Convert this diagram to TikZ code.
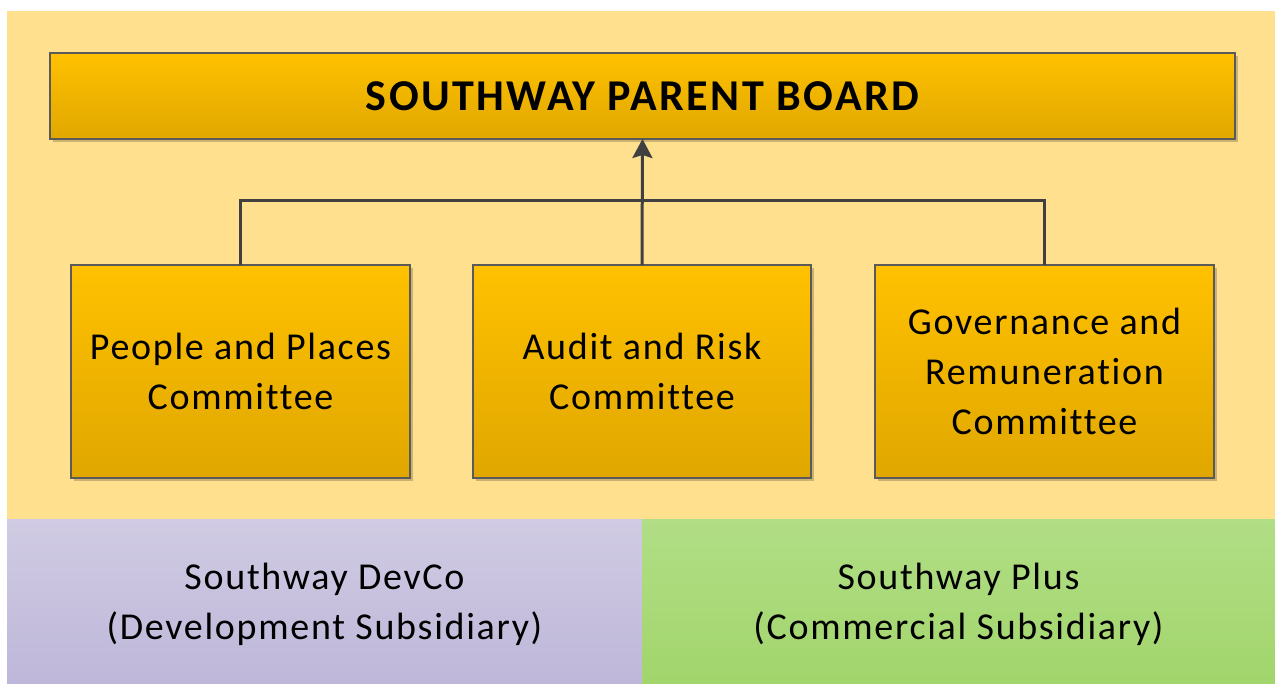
\documentclass[tikz,border=0pt]{standalone}
\usepackage{fontspec}
\setmainfont{Carlito}[Ligatures=NoCommon, LetterSpace=4.5]
\newfontfamily\titlefont{Carlito}[Ligatures=NoCommon, LetterSpace=5.5]
\usetikzlibrary{arrows.meta,shadows}
\definecolor{bgyellow}{HTML}{FFE08F}
\definecolor{boxtop}{HTML}{FFC100}
\definecolor{boxbot}{HTML}{E0A700}
\definecolor{edgegray}{HTML}{5A5A5A}
\definecolor{linegray}{HTML}{404040}
\definecolor{purtop}{HTML}{D0CBE3}
\definecolor{purbot}{HTML}{BEB7D9}
\definecolor{grntop}{HTML}{B1DE86}
\definecolor{grnbot}{HTML}{A2D56C}
\tikzset{
  orgbox/.style={draw=edgegray, line width=2pt, top color=boxtop, bottom color=boxbot,
    inner sep=0pt, outer sep=0pt, align=center,
    drop shadow={shadow xshift=3pt, shadow yshift=-3pt, fill=black!40!bgyellow, opacity=0.5}},
  comfont/.style={font=\fontsize{38}{50}\selectfont},
  subfont/.style={font=\fontsize{38}{50}\selectfont, align=center},
  conn/.style={draw=linegray, line width=3pt},
}
\begin{document}
\begin{tikzpicture}[x=1pt,y=-1pt]
\useasboundingbox (0,0) rectangle (1275,684);
\fill[white] (0,0) rectangle (1275,684);
\fill[bgyellow] (7,11) rectangle (1275,519);
\shade[top color=purtop, bottom color=purbot] (7,519) rectangle (642,684);
\shade[top color=grntop, bottom color=grnbot] (642,519) rectangle (1275,684);

\node[orgbox, minimum width=1185pt, minimum height=86pt, font=\titlefont\fontsize{44}{50}\selectfont\bfseries] (parent) at (642.5,96) {SOUTHWAY PARENT BOARD};

\node[orgbox, comfont, minimum width=339pt, minimum height=213pt] (ppc) at (240.5,371.5) {People and Places\\Committee};
\node[orgbox, comfont, minimum width=338pt, minimum height=213pt] (arc) at (642,371.5) {Audit and Risk\\Committee};
\node[orgbox, comfont, minimum width=339pt, minimum height=213pt] (grc) at (1044.5,371.5) {Governance and\\Remuneration\\Committee};

\coordinate (jl) at (240.5,201);
\coordinate (jr) at (1044.5,201);
\draw[conn] (ppc.north) -- (jl) -- (jr) -- (grc.north);
\draw[conn, -{Stealth[length=19pt,width=20pt,inset=3pt]}] (arc.north) -- (parent.south);

\node[subfont] (devco) at (324.5,604) {Southway DevCo\\(Development Subsidiary)};
\node[subfont] (plus) at (958.5,604) {Southway Plus\\(Commercial Subsidiary)};
\end{tikzpicture}
\end{document}
